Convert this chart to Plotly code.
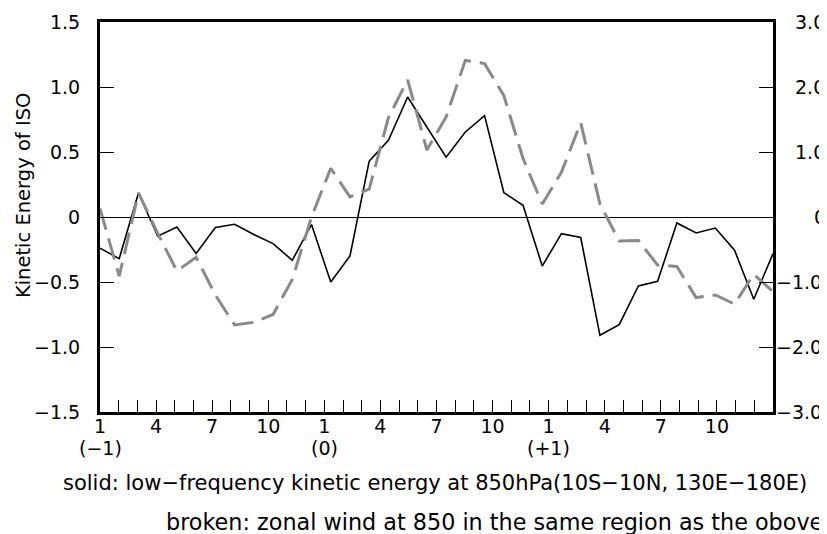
import plotly.graph_objects as go

# ---- data ----
month_index = list(range(36))
solid_ke = [-0.24, -0.32, 0.185, -0.148, -0.077, -0.28, -0.08, -0.056, -0.135, -0.205,
            -0.333, -0.058, -0.50, -0.30, 0.43, 0.59, 0.923, 0.69, 0.46, 0.654,
            0.78, 0.188, 0.09, -0.377, -0.128, -0.158, -0.91, -0.828, -0.53, -0.495,
            -0.046, -0.123, -0.085, -0.256, -0.633, -0.282]
broken_u = [0.13, -0.91, 0.37, -0.25, -0.83, -0.62, -1.20, -1.66, -1.62, -1.50,
            -0.96, 0.00, 0.75, 0.31, 0.43, 1.53, 2.11, 1.03, 1.54, 2.41,
            2.36, 1.87, 0.90, 0.20, 0.69, 1.45, 0.20, -0.37, -0.36, -0.74,
            -0.76, -1.24, -1.20, -1.34, -0.88, -1.15]

month_ticks = list(range(36))
month_labels = ["1", "", "", "4", "", "", "7", "", "", "10", "", ""] * 3
year_ticks = [0, 12, 24]
year_labels = ["(−1)", "(0)", "(+1)"]

left_ticks = [-1.5, -1.0, -0.5, 0, 0.5, 1.0, 1.5]
left_labels = ["−1.5", "−1.0", "−0.5", "0", "0.5", "1.0", "1.5"]
right_ticks = [-3.0, -2.0, -1.0, 0, 1.0, 2.0, 3.0]
right_labels = ["−3.0", "−2.0", "−1.0", "\u2003\u20030", "\u20031.0", "\u20032.0", "\u20033.0"]

FONT = "DejaVu Sans"

# the 36 monthly values are stretched across the full 36-month axis span
n = len(month_index)
x_pos = [i * n / (n - 1) for i in month_index]

fig = go.Figure()
fig.add_trace(go.Scatter(x=x_pos, y=broken_u, yaxis="y2", mode="lines",
                         line=dict(color="#8a8a8a", width=3, dash="22px,9px"),
                         showlegend=False))
fig.add_trace(go.Scatter(x=x_pos, y=solid_ke, yaxis="y", mode="lines",
                         line=dict(color="black", width=1.6),
                         showlegend=False))

fig.update_layout(
    width=819, height=526,
    margin=dict(l=92, r=54, t=14, b=122, autoexpand=False),
    paper_bgcolor="white", plot_bgcolor="white",
    font=dict(family=FONT, size=19, color="black"),
    xaxis=dict(range=[0, 36], tickmode="array", tickvals=month_ticks, ticktext=month_labels,
               ticks="inside", ticklen=12, tickwidth=1.3, tickcolor="black",
               showline=True, linewidth=3, linecolor="black", mirror=True,
               showgrid=False, zeroline=False, tickangle=0, ticklabelstandoff=-5),
    yaxis=dict(range=[-1.5, 1.5], tickmode="array", tickvals=left_ticks, ticktext=left_labels,
               ticks="inside", ticklen=14, tickwidth=1.3, tickcolor="black",
               showline=True, linewidth=3, linecolor="black", mirror=True,
               showgrid=False, zeroline=True, zerolinecolor="black", zerolinewidth=1.2,
               ticklabelstandoff=13),
    yaxis2=dict(range=[-3, 3], overlaying="y", side="right", anchor="x",
                tickmode="array", tickvals=right_ticks, ticktext=right_labels,
                ticks="inside", ticklen=14, tickwidth=1.3, tickcolor="black",
                showline=False, showgrid=False, zeroline=False, ticklabelstandoff=2),
)

for xv, lab in zip(year_ticks, year_labels):
    fig.add_annotation(text=lab, xref="x", yref="paper", x=xv, y=-0.092,
                       showarrow=False, font=dict(family=FONT, size=19),
                       xanchor="center", yanchor="middle")

fig.add_annotation(text="Kinetic Energy of ISO", xref="paper", yref="paper",
                   x=-0.1145, y=0.556, textangle=-90, showarrow=False,
                   font=dict(family=FONT, size=19.5), xanchor="center", yanchor="middle")
fig.add_annotation(text="solid: low−frequency kinetic energy at 850hPa(10S−10N, 130E−180E)",
                   xref="paper", yref="paper", x=0.498, y=-0.181, showarrow=False,
                   font=dict(family=FONT, size=21), xanchor="center", yanchor="middle")
fig.add_annotation(text="broken: zonal wind at 850 in the same region as the obove",
                   xref="paper", yref="paper", x=0.586, y=-0.283, showarrow=False,
                   font=dict(family=FONT, size=22.3), xanchor="center", yanchor="middle")

fig.write_html("out.html")
